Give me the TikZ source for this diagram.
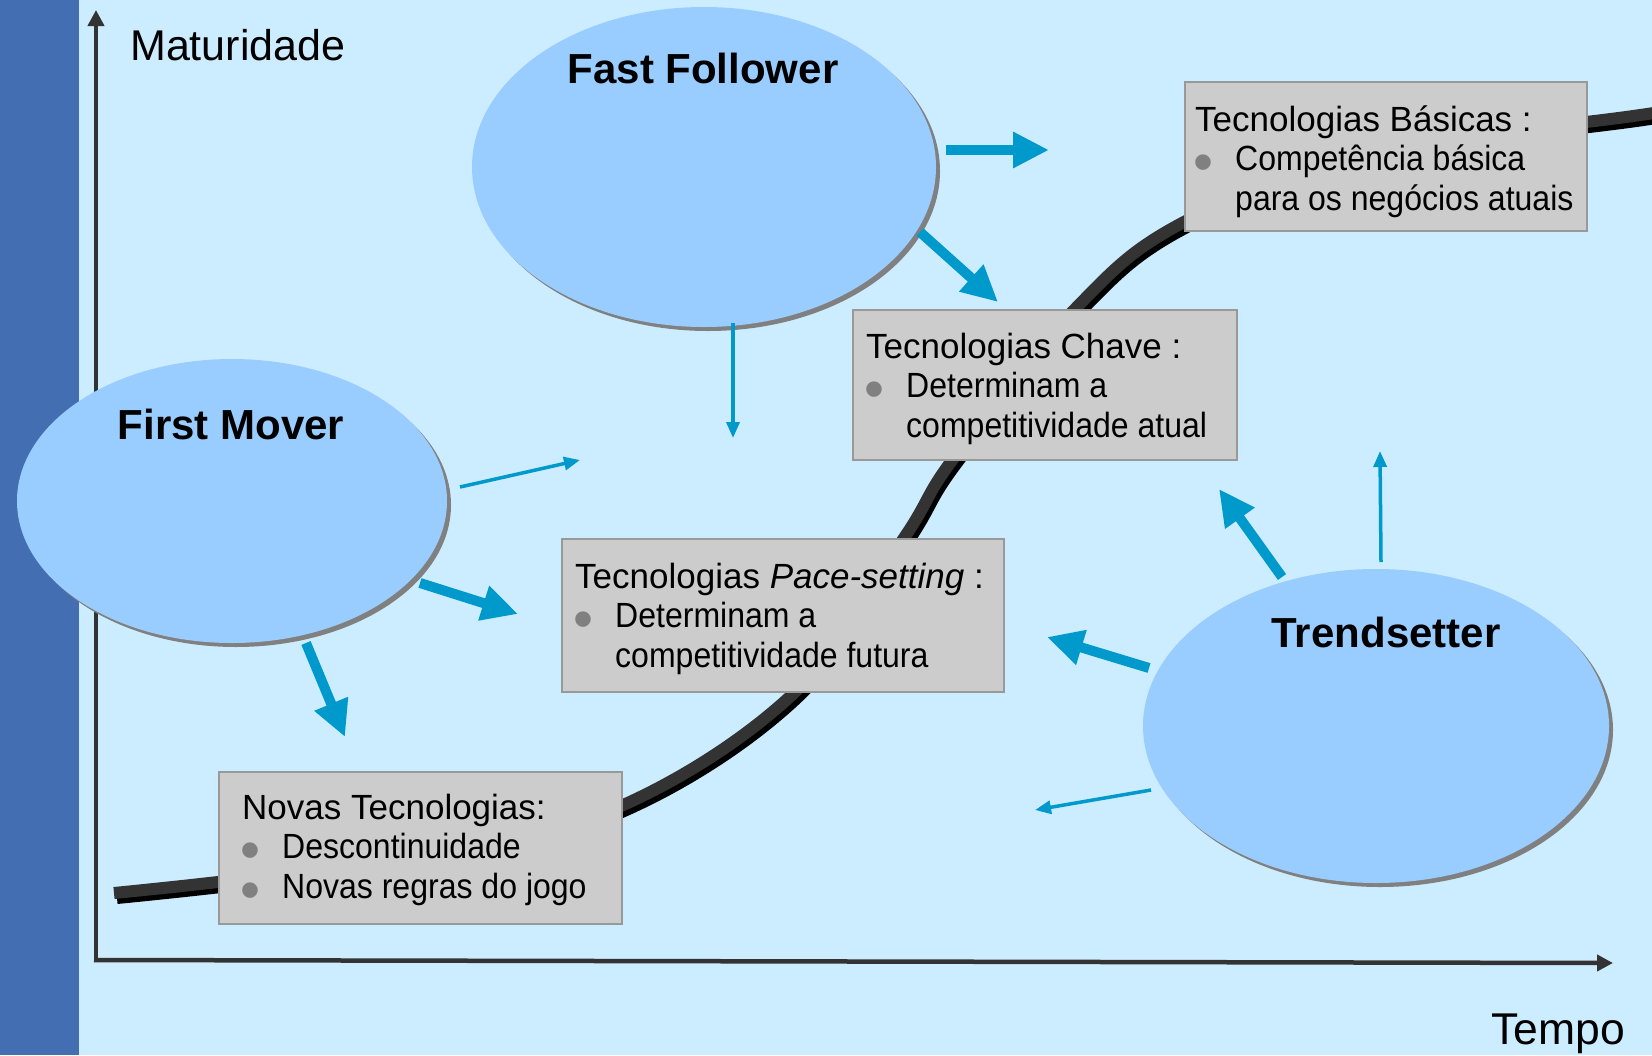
\documentclass[tikz,border=0pt]{standalone}
\usepackage{fontspec}
\setmainfont{Liberation Sans}
\newfontfamily\narrowfont[FakeStretch=0.915]{Liberation Sans}
\usetikzlibrary{arrows.meta,shapes.geometric,shadows}
\definecolor{bgc}{RGB}{204,236,255}
\definecolor{stripc}{RGB}{67,110,178}
\definecolor{ellc}{RGB}{153,204,255}
\definecolor{arrc}{RGB}{0,153,204}
\definecolor{boxfillc}{RGB}{204,204,204}
\definecolor{boxlinec}{RGB}{153,153,153}
\definecolor{axisc}{RGB}{51,51,51}
\definecolor{bulgray}{RGB}{128,128,128}
\definecolor{shadowc}{RGB}{128,128,128}
\newcommand\mybul{\makebox[40pt][l]{\hspace*{-2pt}\smash{\raisebox{-11pt}{\fontsize{57}{57}\selectfont\textcolor{bulgray}{\char"2022}}}}}
\newcommand\myind{\hspace*{40pt}}
\newcommand\bultxt[1]{{\narrowfont #1}}
\tikzset{
  ellipsenode/.style={ellipse, fill=ellc, inner sep=0pt, draw=none,
    drop shadow={shadow xshift=4pt, shadow yshift=-4pt, fill=shadowc, opacity=1}},
  boxnode/.style={rectangle, fill=boxfillc, draw=boxlinec, line width=2pt, anchor=north west, inner sep=0pt},
  boxtext/.style={anchor=base west, inner sep=0pt, font=\fontsize{35}{39.5}\selectfont},
  bigtitle/.style={anchor=base, inner sep=0pt, font=\fontsize{42}{48}\selectfont\bfseries},
  axislabel/.style={anchor=base west, inner sep=0pt},
  bigarrow/.style={draw=arrc, line width=10pt, -{Triangle[length=36pt,width=34pt]}},
  smallarrow/.style={draw=arrc, line width=3.5pt, -{Triangle[length=16pt,width=13pt]}},
  axisline/.style={draw=axisc, line width=4.5pt, -{Triangle[length=16pt,width=16pt]}},
  curveline/.style={line width=12pt},
}
\begin{document}
\begin{tikzpicture}[x=1pt,y=-1pt]
\useasboundingbox (0,0) rectangle (1652,1055);
\clip (0,0) rectangle (1652,1055);
\fill[bgc] (0,0) rectangle (1652,1055);
\fill[stripc] (0,0) rectangle (79,1055);

% axes
\coordinate (yorig) at (96,962);
\coordinate (ytop) at (96,10);
\coordinate (xorig) at (94,960);
\coordinate (xend) at (1613,963);
\draw[axisline] (yorig) -- (ytop);
\draw[axisline] (xorig) -- (xend);
\node[axislabel, font=\fontsize{43}{48}\selectfont] (mat) at (130,60) {Maturidade};
\node[axislabel, font=\fontsize{44.5}{48}\selectfont] (tem) at (1491,1044) {Tempo};

% S-curve
\begin{scope}[shift={(3,5)}]
\draw[curveline, black] plot[smooth, tension=0.6] coordinates {(114,893) (218,882) (420,858) (621,806) (795,692) (904,538) (953,459) (1075,309) (1184,222) (1390,143) (1586,122) (1660,112)};
\end{scope}
\draw[curveline, axisc] plot[smooth, tension=0.6] coordinates {(114,893) (218,882) (420,858) (621,806) (795,692) (904,538) (953,459) (1075,309) (1184,222) (1390,143) (1586,122) (1660,112)};

% boxes
\node[boxnode, minimum width=402pt, minimum height=149pt] (bas) at (1184,81) {};
\node[boxnode, minimum width=384pt, minimum height=150pt] (chv) at (852,309) {};
\node[boxnode, minimum width=442pt, minimum height=153pt] (pac) at (561,538) {};
\node[boxnode, minimum width=403pt, minimum height=152pt] (nov) at (218,771) {};

\node[boxtext] (bast) at (1195,131) {\parbox[t]{400pt}{Tecnologias Básicas :\\ \mybul\bultxt{Competência básica}\\ \myind\bultxt{para os negócios atuais}}};
\node[boxtext] (chvt) at (866,358) {\parbox[t]{400pt}{Tecnologias Chave :\\ \mybul\bultxt{Determinam a}\\ \myind\bultxt{competitividade atual}}};
\node[boxtext] (pact) at (575,588) {\parbox[t]{440pt}{Tecnologias \textit{Pace-setting} :\\ \mybul\bultxt{Determinam a}\\ \myind\bultxt{competitividade futura}}};
\node[boxtext] (novt) at (242,819) {\parbox[t]{400pt}{Novas Tecnologias:\\ \mybul\bultxt{Descontinuidade}\\ \mybul\bultxt{Novas regras do jogo}}};

% ellipses
\node[ellipsenode, minimum width=464pt, minimum height=320pt] (ff) at (704,167) {};
\node[ellipsenode, minimum width=430pt, minimum height=284pt] (fm) at (232,501) {};
\node[ellipsenode, minimum width=466pt, minimum height=314pt] (ts) at (1376,726) {};
\node[bigtitle] (fft) at (703,83) {Fast Follower};
\node[bigtitle] (fmt) at (231,439) {First Mover};
\node[bigtitle] (tst) at (1386,647) {Trendsetter};

% arrow coordinates
\coordinate (a1s) at (946,150);  \coordinate (a1e) at (1049,150);
\coordinate (a2s) at (920,232);  \coordinate (a2e) at (998,302);
\coordinate (a3s) at (420,583);  \coordinate (a3e) at (518,614);
\coordinate (a4s) at (306,643);  \coordinate (a4e) at (345,737);
\coordinate (a5s) at (1282,577); \coordinate (a5e) at (1219,489);
\coordinate (a6s) at (1149,668); \coordinate (a6e) at (1047,637);
\coordinate (a7s) at (733,323);  \coordinate (a7e) at (733,438);
\coordinate (a8s) at (460,487);  \coordinate (a8e) at (580,460);
\coordinate (a9s) at (1381,562); \coordinate (a9e) at (1380,451);
\coordinate (a10s) at (1151,790); \coordinate (a10e) at (1035,810);

\draw[bigarrow] (a1s) -- (a1e);
\draw[bigarrow] (a2s) -- (a2e);
\draw[bigarrow] (a3s) -- (a3e);
\draw[bigarrow] (a4s) -- (a4e);
\draw[bigarrow] (a5s) -- (a5e);
\draw[bigarrow] (a6s) -- (a6e);
\draw[smallarrow] (a7s) -- (a7e);
\draw[smallarrow] (a8s) -- (a8e);
\draw[smallarrow] (a9s) -- (a9e);
\draw[smallarrow] (a10s) -- (a10e);
\end{tikzpicture}
\end{document}
